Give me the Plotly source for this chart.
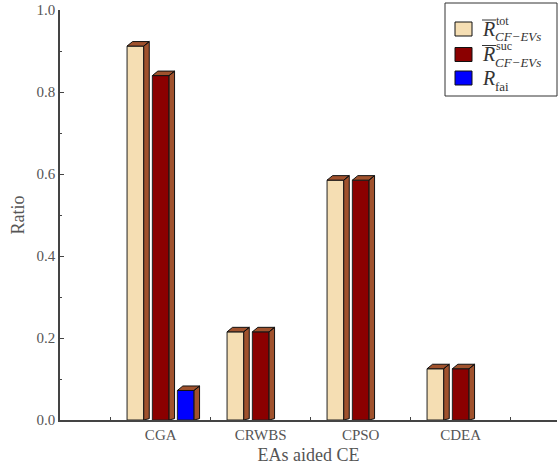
import plotly.graph_objects as go

# ---- data ----
categories = ["CGA", "CRWBS", "CPSO", "CDEA"]
r_tot = [0.912, 0.215, 0.585, 0.125]
r_suc = [0.840, 0.215, 0.585, 0.125]
r_fai = [0.072, 0.0, 0.0, 0.0]
y_ticks = [0.0, 0.2, 0.4, 0.6, 0.8, 1.0]

series = [r_tot, r_suc, r_fai]
colors = ["#f5deb3", "#8b0000", "#0000ff"]
offsets = [-0.253, 0.0, 0.25]
W = 0.167          # bar width (x units)
DX = 0.055         # depth in x units
DY = 0.011         # depth in y units
SIDE = "#a0522d"
FONT = "Liberation Serif"
TXT = "#555555"

fig = go.Figure()

px_, py_ = [], []
for vals, col, off in zip(series, colors, offsets):
    xs, ys = [], []
    for i, v in enumerate(vals):
        if v <= 0:
            continue
        xc = i + off
        xs.append(xc)
        ys.append(v)
        x0, x1 = xc - W / 2, xc + W / 2
        # top face
        px_ += [x0, x0 + DX, x1 + DX, x1, x0, None]
        py_ += [v, v + DY, v + DY, v, v, None]
        # side face
        px_ += [x1, x1 + DX, x1 + DX, x1, x1, None]
        py_ += [v, v + DY, DY * 0.3, 0, v, None]
    fig.add_trace(go.Bar(x=xs, y=ys, width=W,
                         marker=dict(color=col, line=dict(color="#222222", width=1)),
                         showlegend=False))

fig.add_trace(go.Scatter(x=px_, y=py_, mode="lines", fill="toself",
                         fillcolor=SIDE, line=dict(color="#111111", width=1),
                         showlegend=False, hoverinfo="skip"))

# ---- manual legend (paper coords from pixel geometry) ----
L, R_, T, B = 60, 557, 10, 420
def xp(p):
    return (p - L) / (R_ - L)
def yp(p):
    return (B - p) / (B - T)

shapes = [dict(type="rect", xref="paper", yref="paper",
               x0=xp(445), x1=xp(557), y0=yp(96), y1=yp(3),
               line=dict(color="#333333", width=1), fillcolor="white", layer="above")]
annots = []
rows = [(29, "tot", "<i>CF−EVs</i>", True),
        (54.5, "suc", "<i>CF−EVs</i>", True),
        (78, None, "fai", False)]
for (cy, sup, sub, bar), col in zip(rows, colors):
    shapes.append(dict(type="rect", xref="paper", yref="paper",
                       x0=xp(455), x1=xp(472), y0=yp(cy + 7), y1=yp(cy - 7),
                       fillcolor=col, line=dict(color="#111111", width=1), layer="above"))
    annots.append(dict(text="<i>R</i>", xref="paper", yref="paper", x=xp(481), y=yp(cy),
                       xanchor="left", yanchor="middle", showarrow=False, borderpad=0,
                       font=dict(family=FONT, size=20, color="#333333")))
    if bar:
        shapes.append(dict(type="line", xref="paper", yref="paper",
                           x0=xp(482), x1=xp(496), y0=yp(cy - 9), y1=yp(cy - 9),
                           line=dict(color="#333333", width=1), layer="above"))
    if sup:
        annots.append(dict(text=sup, xref="paper", yref="paper", x=xp(495), y=yp(cy - 8),
                           xanchor="left", yanchor="middle", showarrow=False, borderpad=0,
                           font=dict(family=FONT, size=12, color="#333333")))
    annots.append(dict(text=sub, xref="paper", yref="paper", x=xp(494), y=yp(cy + 8),
                       xanchor="left", yanchor="middle", showarrow=False, borderpad=0,
                       font=dict(family=FONT, size=13, color="#333333")))

fig.update_layout(
    width=558, height=467, autosize=False,
    margin=dict(l=60, r=1, t=10, b=47),
    plot_bgcolor="white", paper_bgcolor="white",
    barmode="overlay",
    font=dict(family=FONT, color=TXT, size=15),
    shapes=shapes, annotations=annots,
    xaxis=dict(range=[-1.007, 3.963], tickvals=list(range(len(categories))),
               ticktext=categories, ticks="", showgrid=False, zeroline=False,
               showline=True, linecolor="#444444", linewidth=1.5,
               tickfont=dict(family=FONT, size=15, color=TXT),
               minor=dict(tickvals=[-0.5, 0.5, 1.5, 2.5, 3.5], ticks="inside",
                          ticklen=3, tickcolor="#444444"),
               title=dict(text="EAs aided CE", font=dict(family=FONT, size=18, color=TXT),
                          standoff=7)),
    yaxis=dict(range=[0, 1], tickvals=y_ticks, tickformat=".1f", ticks="inside",
               ticklen=4, tickcolor="#444444", showgrid=False, zeroline=False,
               showline=True, linecolor="#444444", linewidth=1.5,
               tickfont=dict(family=FONT, size=15, color=TXT),
               minor=dict(dtick=0.1, ticks="inside", ticklen=2, tickcolor="#444444"),
               title=dict(text="Ratio", font=dict(family=FONT, size=18, color=TXT),
                          standoff=7)),
)

fig.write_html(
    "out.html",
    config={"responsive": False, "displayModeBar": False},
    post_script="document.body.style.margin='0';document.body.style.overflow='hidden';"
                "Plotly.relayout('{plot_id}', {width: 558, height: 467});",
)
